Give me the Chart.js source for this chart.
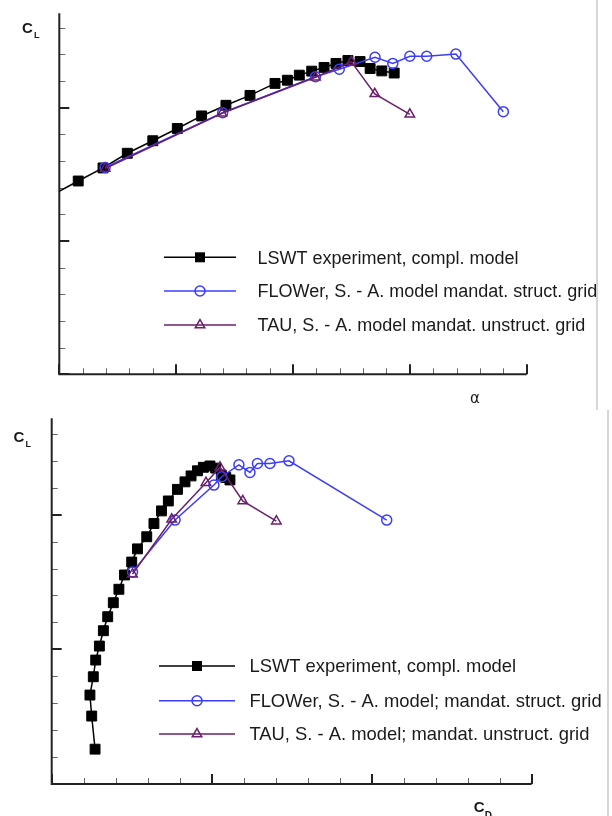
<!DOCTYPE html>
<html>
<head>
<meta charset="utf-8">
<script src="https://cdn.jsdelivr.net/npm/chart.js@4.4.1/dist/chart.umd.min.js"></script>
<style>
  html, body { margin: 0; padding: 0; background: #fff; }
  canvas { display: block; }
</style>
</head>
<body>
<canvas id="alpha-chart" width="612" height="410"></canvas>
<canvas id="polar-chart" width="612" height="406"></canvas>
<script>
// C_L over alpha (top plot)
const lswtAlpha = [-0.3, 0.81, 1.87, 2.91, 4.0, 5.05, 6.09, 7.13, 8.16, 9.23, 9.76, 10.27, 10.8, 11.33, 11.84, 12.35, 12.87, 13.3, 13.8, 14.33]
const lswtCL = [0.672, 0.725, 0.774, 0.829, 0.876, 0.922, 0.969, 1.009, 1.046, 1.091, 1.103, 1.122, 1.137, 1.151, 1.166, 1.177, 1.173, 1.147, 1.138, 1.130]
const flowerAlpha = [1.96, 6.99, 10.96, 11.98, 13.51, 14.27, 15.0, 15.72, 16.97, 19.0]
const flowerCL = [0.776, 0.981, 1.116, 1.144, 1.189, 1.166, 1.193, 1.193, 1.201, 0.985]
const tauAlpha = [1.96, 6.96, 10.96, 12.5, 13.5, 15.0]
const tauCL = [0.772, 0.979, 1.114, 1.172, 1.052, 0.975]

// C_L over C_D (bottom plot)
const lswtCD = [0.0271, 0.0250, 0.0239, 0.0260, 0.0275, 0.0298, 0.0323, 0.0350, 0.0385, 0.0420, 0.0455, 0.0500, 0.0536, 0.0594, 0.0639, 0.0686, 0.0729, 0.0786, 0.0833, 0.0871, 0.0911, 0.0948, 0.0989, 0.1025, 0.1060, 0.1088, 0.1114]
const lswtPolarCL = [0.129, 0.252, 0.330, 0.398, 0.460, 0.512, 0.569, 0.621, 0.673, 0.723, 0.776, 0.824, 0.873, 0.918, 0.967, 1.014, 1.051, 1.094, 1.122, 1.144, 1.163, 1.176, 1.181, 1.173, 1.147, 1.138, 1.129]
const flowerCD = [0.0505, 0.0771, 0.1014, 0.1063, 0.1170, 0.1239, 0.1286, 0.1364, 0.1483, 0.2094]
const flowerPolarCL = [0.787, 0.980, 1.110, 1.141, 1.185, 1.157, 1.190, 1.190, 1.200, 0.980]
const tauCD = [0.0505, 0.0750, 0.0964, 0.1052, 0.1194, 0.1404]
const tauPolarCL = [0.779, 0.983, 1.119, 1.176, 1.051, 0.976]

// tick marks (no labels in the original)
const alphaMajorTicks = [0, 5, 10, 15, 20]
const alphaMinorTicks = [1, 2, 3, 4, 6, 7, 8, 9, 11, 12, 13, 14, 16, 17, 18, 19]
const cdMajorTicks = [0, 0.1, 0.2, 0.3]
const cdMinorTicks = [0.02, 0.04, 0.06, 0.08, 0.12, 0.14, 0.16, 0.18, 0.22, 0.24, 0.26, 0.28]
const clMajorTicks = [0, 0.5, 1.0]
const clMinorTicks = [0.1, 0.2, 0.3, 0.4, 0.6, 0.7, 0.8, 0.9, 1.1, 1.2, 1.3]

const topLabels = ['LSWT experiment, compl. model', 'FLOWer, S. - A. model mandat. struct. grid', 'TAU, S. - A. model mandat. unstruct. grid']
const bottomLabels = ['LSWT experiment, compl. model', 'FLOWer, S. - A. model; mandat. struct. grid', 'TAU, S. - A. model; mandat. unstruct. grid']

const BLUE = '#3c3cff'
const PURPLE = '#6b1f6b'
const FONT = '"Liberation Sans", Arial, Helvetica, sans-serif'

function toXY(xs, ys) {
  return xs.map((v, i) => ({ x: v, y: ys[i] }))
}

function makeDatasets(labels, lswt, flower, tau) {
  return [
    { label: labels[0], data: lswt, showLine: true, borderColor: '#000', backgroundColor: '#000',
      borderWidth: 1.5, pointStyle: 'rect', pointRadius: 7, pointBorderWidth: 1, order: 3 },
    { label: labels[1], data: flower, showLine: true, borderColor: BLUE, backgroundColor: 'rgba(0,0,0,0)',
      borderWidth: 1.5, pointStyle: 'circle', pointRadius: 5, pointBorderWidth: 1.5, order: 2 },
    { label: labels[2], data: tau, showLine: true, borderColor: PURPLE, backgroundColor: 'rgba(0,0,0,0)',
      borderWidth: 1.5, pointStyle: 'triangle', pointRadius: 5.5, pointBorderWidth: 1.5, order: 1 }
  ]
}

function drawMarker(ctx, style, x, y, color) {
  ctx.save()
  ctx.strokeStyle = color
  ctx.fillStyle = color
  ctx.lineWidth = 1.5
  ctx.beginPath()
  if (style === 'rect') {
    ctx.fillRect(x - 5, y - 5, 10, 10)
  } else if (style === 'circle') {
    ctx.arc(x, y, 5, 0, Math.PI * 2)
    ctx.stroke()
  } else {
    const r = 5.5
    ctx.moveTo(x, y - r)
    ctx.lineTo(x + r * 0.866, y + r / 2)
    ctx.lineTo(x - r * 0.866, y + r / 2)
    ctx.closePath()
    ctx.stroke()
  }
  ctx.restore()
}

// tecplot style axes: ticks pointing into the plot
function axesPlugin(xMajor, xMinor) {
  return {
    id: 'tecAxes',
    beforeDatasetsDraw(chart) {
      const { ctx, chartArea: a, scales: { x, y } } = chart
      ctx.save()
      ctx.strokeStyle = '#666'
      ctx.lineWidth = 1
      ctx.beginPath()
      xMinor.forEach(v => {
        const px = Math.round(x.getPixelForValue(v)) + 0.5
        ctx.moveTo(px, a.bottom); ctx.lineTo(px, a.bottom - 6)
      })
      clMinorTicks.forEach(v => {
        const py = Math.round(y.getPixelForValue(v)) + 0.5
        ctx.moveTo(a.left, py); ctx.lineTo(a.left + 6, py)
      })
      ctx.stroke()
      ctx.strokeStyle = '#222'
      ctx.lineWidth = 2
      ctx.beginPath()
      xMajor.forEach(v => {
        const px = Math.round(x.getPixelForValue(v))
        ctx.moveTo(px, a.bottom); ctx.lineTo(px, a.bottom - 10)
      })
      clMajorTicks.forEach(v => {
        const py = Math.round(y.getPixelForValue(v))
        ctx.moveTo(a.left, py); ctx.lineTo(a.left + 10, py)
      })
      ctx.stroke()
      ctx.beginPath()
      ctx.moveTo(a.left, a.top)
      ctx.lineTo(a.left, a.bottom)
      ctx.lineTo(a.right, a.bottom)
      ctx.stroke()
      ctx.restore()
    }
  }
}

function decorPlugin(cfg) {
  return {
    id: 'tecDecor',
    afterDraw(chart) {
      const ctx = chart.ctx
      ctx.save()
      // legend
      chart.data.datasets.forEach((ds, i) => {
        const ly = cfg.legendY[i]
        ctx.strokeStyle = ds.borderColor
        ctx.lineWidth = 1.5
        ctx.beginPath()
        ctx.moveTo(cfg.lineX[0], ly)
        ctx.lineTo(cfg.lineX[1], ly)
        ctx.stroke()
        drawMarker(ctx, ds.pointStyle, (cfg.lineX[0] + cfg.lineX[1]) / 2, ly, ds.borderColor)
        ctx.fillStyle = '#1a1a1a'
        ctx.font = cfg.legendFont
        ctx.textBaseline = 'alphabetic'
        ctx.fillText(ds.label, cfg.textX, ly + 6.4)
      })
      // axis titles
      ctx.fillStyle = '#1a1a1a'
      ctx.font = 'bold 15px ' + FONT
      ctx.fillText('C', cfg.yTitle[0], cfg.yTitle[1])
      ctx.font = 'bold 9px ' + FONT
      ctx.fillText('L', cfg.yTitle[0] + 12, cfg.yTitle[1] + 5)
      if (cfg.xTitle.sub) {
        ctx.font = 'bold 15px ' + FONT
        ctx.fillText(cfg.xTitle.text, cfg.xTitle.x, cfg.xTitle.y)
        ctx.font = 'bold 10px ' + FONT
        ctx.fillText(cfg.xTitle.sub, cfg.xTitle.x + 11, cfg.xTitle.y + 7)
      } else {
        ctx.font = '15px "DejaVu Sans", sans-serif'
        ctx.fillText(cfg.xTitle.text, cfg.xTitle.x, cfg.xTitle.y)
      }
      // page edge line at the right
      ctx.fillStyle = '#d6d6d6'
      ctx.fillRect(cfg.edgeX, 0, 2, chart.height)
      ctx.restore()
    }
  }
}

const commonPlugins = { legend: { display: false }, tooltip: { enabled: false } }

new Chart(document.getElementById('alpha-chart'), {
  type: 'scatter',
  data: {
    datasets: makeDatasets(topLabels, toXY(lswtAlpha, lswtCL), toXY(flowerAlpha, flowerCL), toXY(tauAlpha, tauCL))
  },
  options: {
    responsive: false,
    animation: false,
    layout: { padding: { left: 59.3, right: 85.3, top: 13.3, bottom: 35.7 } },
    scales: {
      x: { type: 'linear', display: false, min: 0, max: 20 },
      y: { type: 'linear', display: false, min: 0, max: 1.354 }
    },
    plugins: commonPlugins
  },
  plugins: [
    axesPlugin(alphaMajorTicks, alphaMinorTicks),
    decorPlugin({ legendY: [257.3, 291, 325], lineX: [164, 236], textX: 257.5, legendFont: '18px ' + FONT,
      yTitle: [22, 32.5], xTitle: { text: 'α', x: 470, y: 403 }, edgeX: 596 })
  ]
})

new Chart(document.getElementById('polar-chart'), {
  type: 'scatter',
  data: {
    datasets: makeDatasets(bottomLabels, toXY(lswtCD, lswtPolarCL), toXY(flowerCD, flowerPolarCL), toXY(tauCD, tauPolarCL))
  },
  options: {
    responsive: false,
    animation: false,
    layout: { padding: { left: 51.7, right: 80.3, top: 8.3, bottom: 32.1 } },
    scales: {
      x: { type: 'linear', display: false, min: 0, max: 0.3 },
      y: { type: 'linear', display: false, min: 0, max: 1.358 }
    },
    plugins: commonPlugins
  },
  plugins: [
    axesPlugin(cdMajorTicks, cdMinorTicks),
    decorPlugin({ legendY: [256, 290.7, 324], lineX: [159, 235], textX: 249.4, legendFont: '18.4px ' + FONT,
      yTitle: [13.5, 32], xTitle: { text: 'C', sub: 'D', x: 473.7, y: 402 }, edgeX: 607 })
  ]
})
</script>
</body>
</html>
